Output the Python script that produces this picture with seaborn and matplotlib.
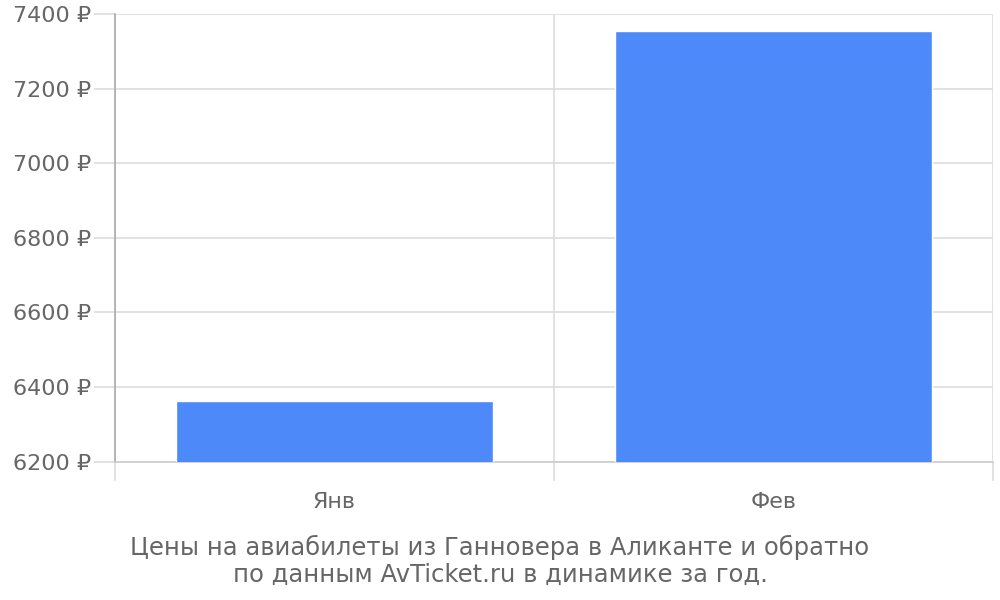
import numpy as np
import seaborn as sns
import matplotlib.pyplot as plt

months = ["Янв", "Фев"]
prices = [6361, 7354]
y_ticks = [6200, 6400, 6600, 6800, 7000, 7200, 7400]
caption = "Цены на авиабилеты из Ганновера в Аликанте и обратно\nпо данным AvTicket.ru в динамике за год."

sns.set_style("white")
plt.rcParams['font.family'] = ['DejaVu Sans']

text_color = "#666666"
grid_color = "#dddddd"
axis_color = "#aaaaaa"

fig = plt.figure(figsize=(10, 6), dpi=100)
ax = fig.add_axes([0.115, 1 - 461.5 / 600, 0.878, (461.5 - 14) / 600])

sns.barplot(x=months, y=prices, color="#4d89f9", width=0.72, saturation=1, ax=ax, zorder=3)

ax.set_ylim(y_ticks[0], y_ticks[-1])
ax.set_xlim(-0.5, len(months) - 0.5)
ax.set_yticks(y_ticks)
ax.set_yticklabels([f"{v} ₽" for v in y_ticks])
ax.yaxis.grid(True, color=grid_color, linewidth=1.2, zorder=0)

# category borders as vertical grid + ticks below axis
borders = np.arange(len(months) + 1) - 0.5
ax.set_xticks(borders, minor=True)
ax.xaxis.grid(True, which="minor", color=grid_color, linewidth=1.2, zorder=0)
ax.tick_params(axis="x", which="both", bottom=True)
ax.tick_params(axis="y", which="both", left=True)
ax.tick_params(axis="x", which="minor", length=14, color=grid_color, width=1.2)
ax.tick_params(axis="x", which="major", length=0, pad=22, labelsize=16, labelcolor=text_color)
ax.tick_params(axis="y", length=15, color=grid_color, width=1.2, pad=2, labelsize=16, labelcolor=text_color)
first = ax.xaxis.get_minor_ticks()[0]
first.tick1line.set_color(axis_color)

for side in ["top", "right"]:
    ax.spines[side].set_visible(False)
ax.spines["left"].set_color(axis_color)
ax.spines["left"].set_linewidth(1.2)
ax.spines["bottom"].set_color("#cccccc")
ax.spines["bottom"].set_linewidth(1.2)
ax.set_xlabel("")
ax.set_ylabel("")

fig.text(0.5, 1 - 561 / 600, caption, ha="center", va="center", fontsize=17.5, color=text_color,
         linespacing=1.12)

fig.savefig("out.png", dpi=100)
